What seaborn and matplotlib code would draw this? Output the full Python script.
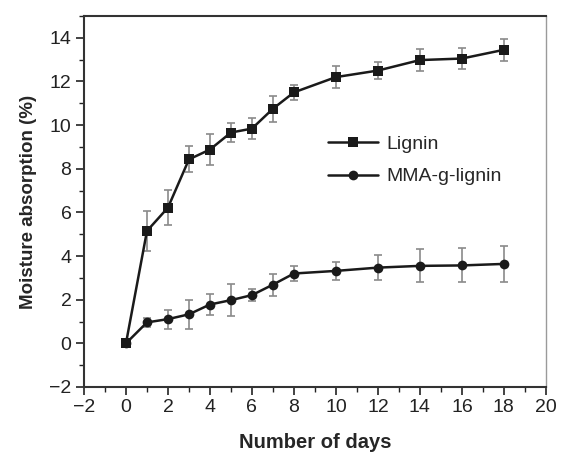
import numpy as np
import pandas as pd
import matplotlib
matplotlib.use("Agg")
import matplotlib.pyplot as plt
from matplotlib.ticker import MultipleLocator
import seaborn as sns

days = [0, 1, 2, 3, 4, 5, 6, 7, 8, 10, 12, 14, 16, 18]
lignin = [0, 5.15, 6.22, 8.43, 8.88, 9.66, 9.84, 10.75, 11.5, 12.2, 12.5, 12.98, 13.05, 13.45]
lignin_err = [0, 0.91, 0.8, 0.59, 0.69, 0.43, 0.48, 0.59, 0.34, 0.49, 0.37, 0.5, 0.48, 0.5]
mma = [0, 0.96, 1.11, 1.33, 1.78, 1.98, 2.21, 2.69, 3.2, 3.32, 3.47, 3.55, 3.57, 3.64]
mma_err = [0, 0.19, 0.44, 0.65, 0.5, 0.72, 0.27, 0.5, 0.33, 0.41, 0.56, 0.76, 0.78, 0.84]

df = pd.DataFrame({
    "day": days * 2,
    "value": lignin + mma,
    "err": lignin_err + mma_err,
    "sample": ["Lignin"] * len(days) + ["MMA-g-lignin"] * len(days),
})

sns.set_style("ticks")
plt.rcParams["font.family"] = ["Liberation Sans", "DejaVu Sans"]

fig = plt.figure(figsize=(5.61, 4.53), dpi=100)
ax = fig.add_axes([0.1497, 0.1457, 0.8233, 0.819])

for name, g in df.groupby("sample"):
    ax.errorbar(g["day"], g["value"], yerr=g["err"], fmt="none",
                ecolor="#8a8a8a", elinewidth=1.2, capsize=3, capthick=1.2, zorder=1)

sns.lineplot(data=df, x="day", y="value", hue="sample", style="sample",
             markers={"Lignin": "s", "MMA-g-lignin": "o"}, dashes=False,
             palette={"Lignin": "#1a1a1a", "MMA-g-lignin": "#1a1a1a"},
             markersize=7, linewidth=1.8, markeredgewidth=0, ax=ax, zorder=3)

ax.set_xlim(-2, 20)
ax.set_ylim(-2, 15)
ax.xaxis.set_minor_locator(MultipleLocator(1))
ax.yaxis.set_minor_locator(MultipleLocator(1))
ax.set_xticks(np.arange(-2, 21, 2))
ax.set_xticklabels(["\u22122" if t == -2 else str(t) for t in range(-2, 21, 2)])
ax.set_yticks(np.arange(-2, 15, 2))
ax.set_yticklabels(["\u22122" if t == -2 else str(t) for t in range(-2, 15, 2)])
ax.tick_params(which="major", direction="out", length=6, width=1.2, labelsize=14,
               colors="#222222", pad=3)
ax.tick_params(which="minor", direction="out", length=3.5, width=1.0, colors="#222222")

for side in ["left", "bottom", "top"]:
    ax.spines[side].set_color("#333333")
    ax.spines[side].set_linewidth(1.5)
ax.spines["right"].set_color("#9a9a9a")
ax.spines["right"].set_linewidth(1.0)

ax.set_xlabel("Number of days", fontsize=14.5, fontweight="bold", labelpad=12)
ax.set_ylabel("Moisture absorption (%)", fontsize=13.5, fontweight="bold", labelpad=9)

leg = ax.legend(loc="upper left", bbox_to_anchor=(0.49, 0.725), frameon=False,
                fontsize=14, handlelength=2.6, handletextpad=0.4, labelspacing=0.75)

fig.savefig("out.png", dpi=100)
